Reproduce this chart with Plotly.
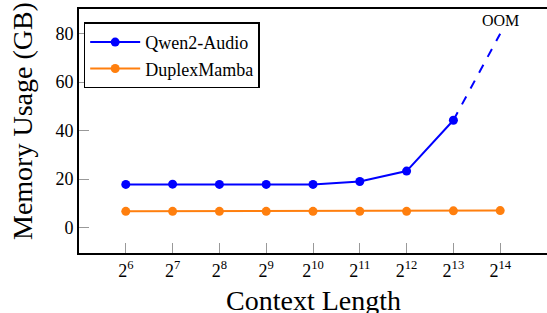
import math
import plotly.graph_objects as go

exponents = [6, 7, 8, 9, 10, 11, 12, 13, 14]
context_lengths = [2 ** e for e in exponents]
tick_labels = [f"2<sup>{e}</sup>" for e in exponents]

qwen_x = context_lengths[:8]
qwen_y = [17.8, 17.9, 17.8, 17.8, 17.8, 19.0, 23.3, 44.3]
oom_x = [context_lengths[7], context_lengths[8]]
oom_y = [44.3, 80.0]
duplex_y = [6.7, 6.7, 6.7, 6.7, 6.7, 6.7, 6.7, 6.9, 7.0]

FONT = "Liberation Serif"
BLUE = "#0000ff"
ORANGE = "#ff7f0e"

fig = go.Figure()
fig.add_trace(go.Scatter(x=qwen_x, y=qwen_y, mode="lines+markers", name="Qwen2-Audio",
                         line=dict(color=BLUE, width=2), marker=dict(size=9, color=BLUE)))
fig.add_trace(go.Scatter(x=oom_x, y=oom_y, mode="lines", showlegend=False,
                         line=dict(color=BLUE, width=2, dash="dash")))
fig.add_trace(go.Scatter(x=context_lengths, y=duplex_y, mode="lines+markers", name="DuplexMamba",
                         line=dict(color=ORANGE, width=2), marker=dict(size=9, color=ORANGE)))

fig.add_annotation(x=math.log10(oom_x[1]), y=oom_y[1], text="OOM",
                   showarrow=False, yshift=13, font=dict(family=FONT, size=16, color="black"))

# axis titles
fig.add_annotation(xref="paper", yref="paper", x=(313 - 79) / 468, y=-(300 - 253) / 244,
                   text="Context Length", showarrow=False, xanchor="center", yanchor="middle",
                   font=dict(family=FONT, size=28, color="black"))
fig.add_annotation(xref="paper", yref="paper", x=-(79 - 23) / 468, y=(253 - 121) / 244,
                   text="Memory Usage (GB)", showarrow=False, textangle=-90,
                   xanchor="center", yanchor="middle",
                   font=dict(family=FONT, size=28, color="black"))

fig.update_layout(
    width=547, height=313,
    margin=dict(l=79, r=0, t=9, b=60),
    plot_bgcolor="white", paper_bgcolor="white",
    font=dict(family=FONT, color="black"),
    showlegend=True,
    legend=dict(x=0.01, y=0.945, xanchor="left", yanchor="top",
                bordercolor="black", borderwidth=1.5, bgcolor="white",
                font=dict(family=FONT, size=18), tracegroupgap=0, itemwidth=50),
    xaxis=dict(type="log", range=[math.log10(2 ** 5), math.log10(2 ** 15)],
               tickvals=context_lengths, ticktext=tick_labels,
               ticks="inside", ticklen=10, tickcolor="#999999", tickwidth=1,
               showline=True, linecolor="black", linewidth=2, mirror=True,
               showgrid=False, zeroline=False, automargin=False,
               tickfont=dict(family=FONT, size=18)),
    yaxis=dict(range=[-10.5, 90.2], tickvals=[0, 20, 40, 60, 80],
               ticks="inside", ticklen=10, tickcolor="#999999", tickwidth=1,
               showline=True, linecolor="black", linewidth=2,
               showgrid=False, zeroline=False, automargin=False,
               tickfont=dict(family=FONT, size=18)),
)
fig.write_html("out.html", config={"displayModeBar": False},
               post_script="document.body.style.margin='0';document.body.style.overflow='hidden';")
